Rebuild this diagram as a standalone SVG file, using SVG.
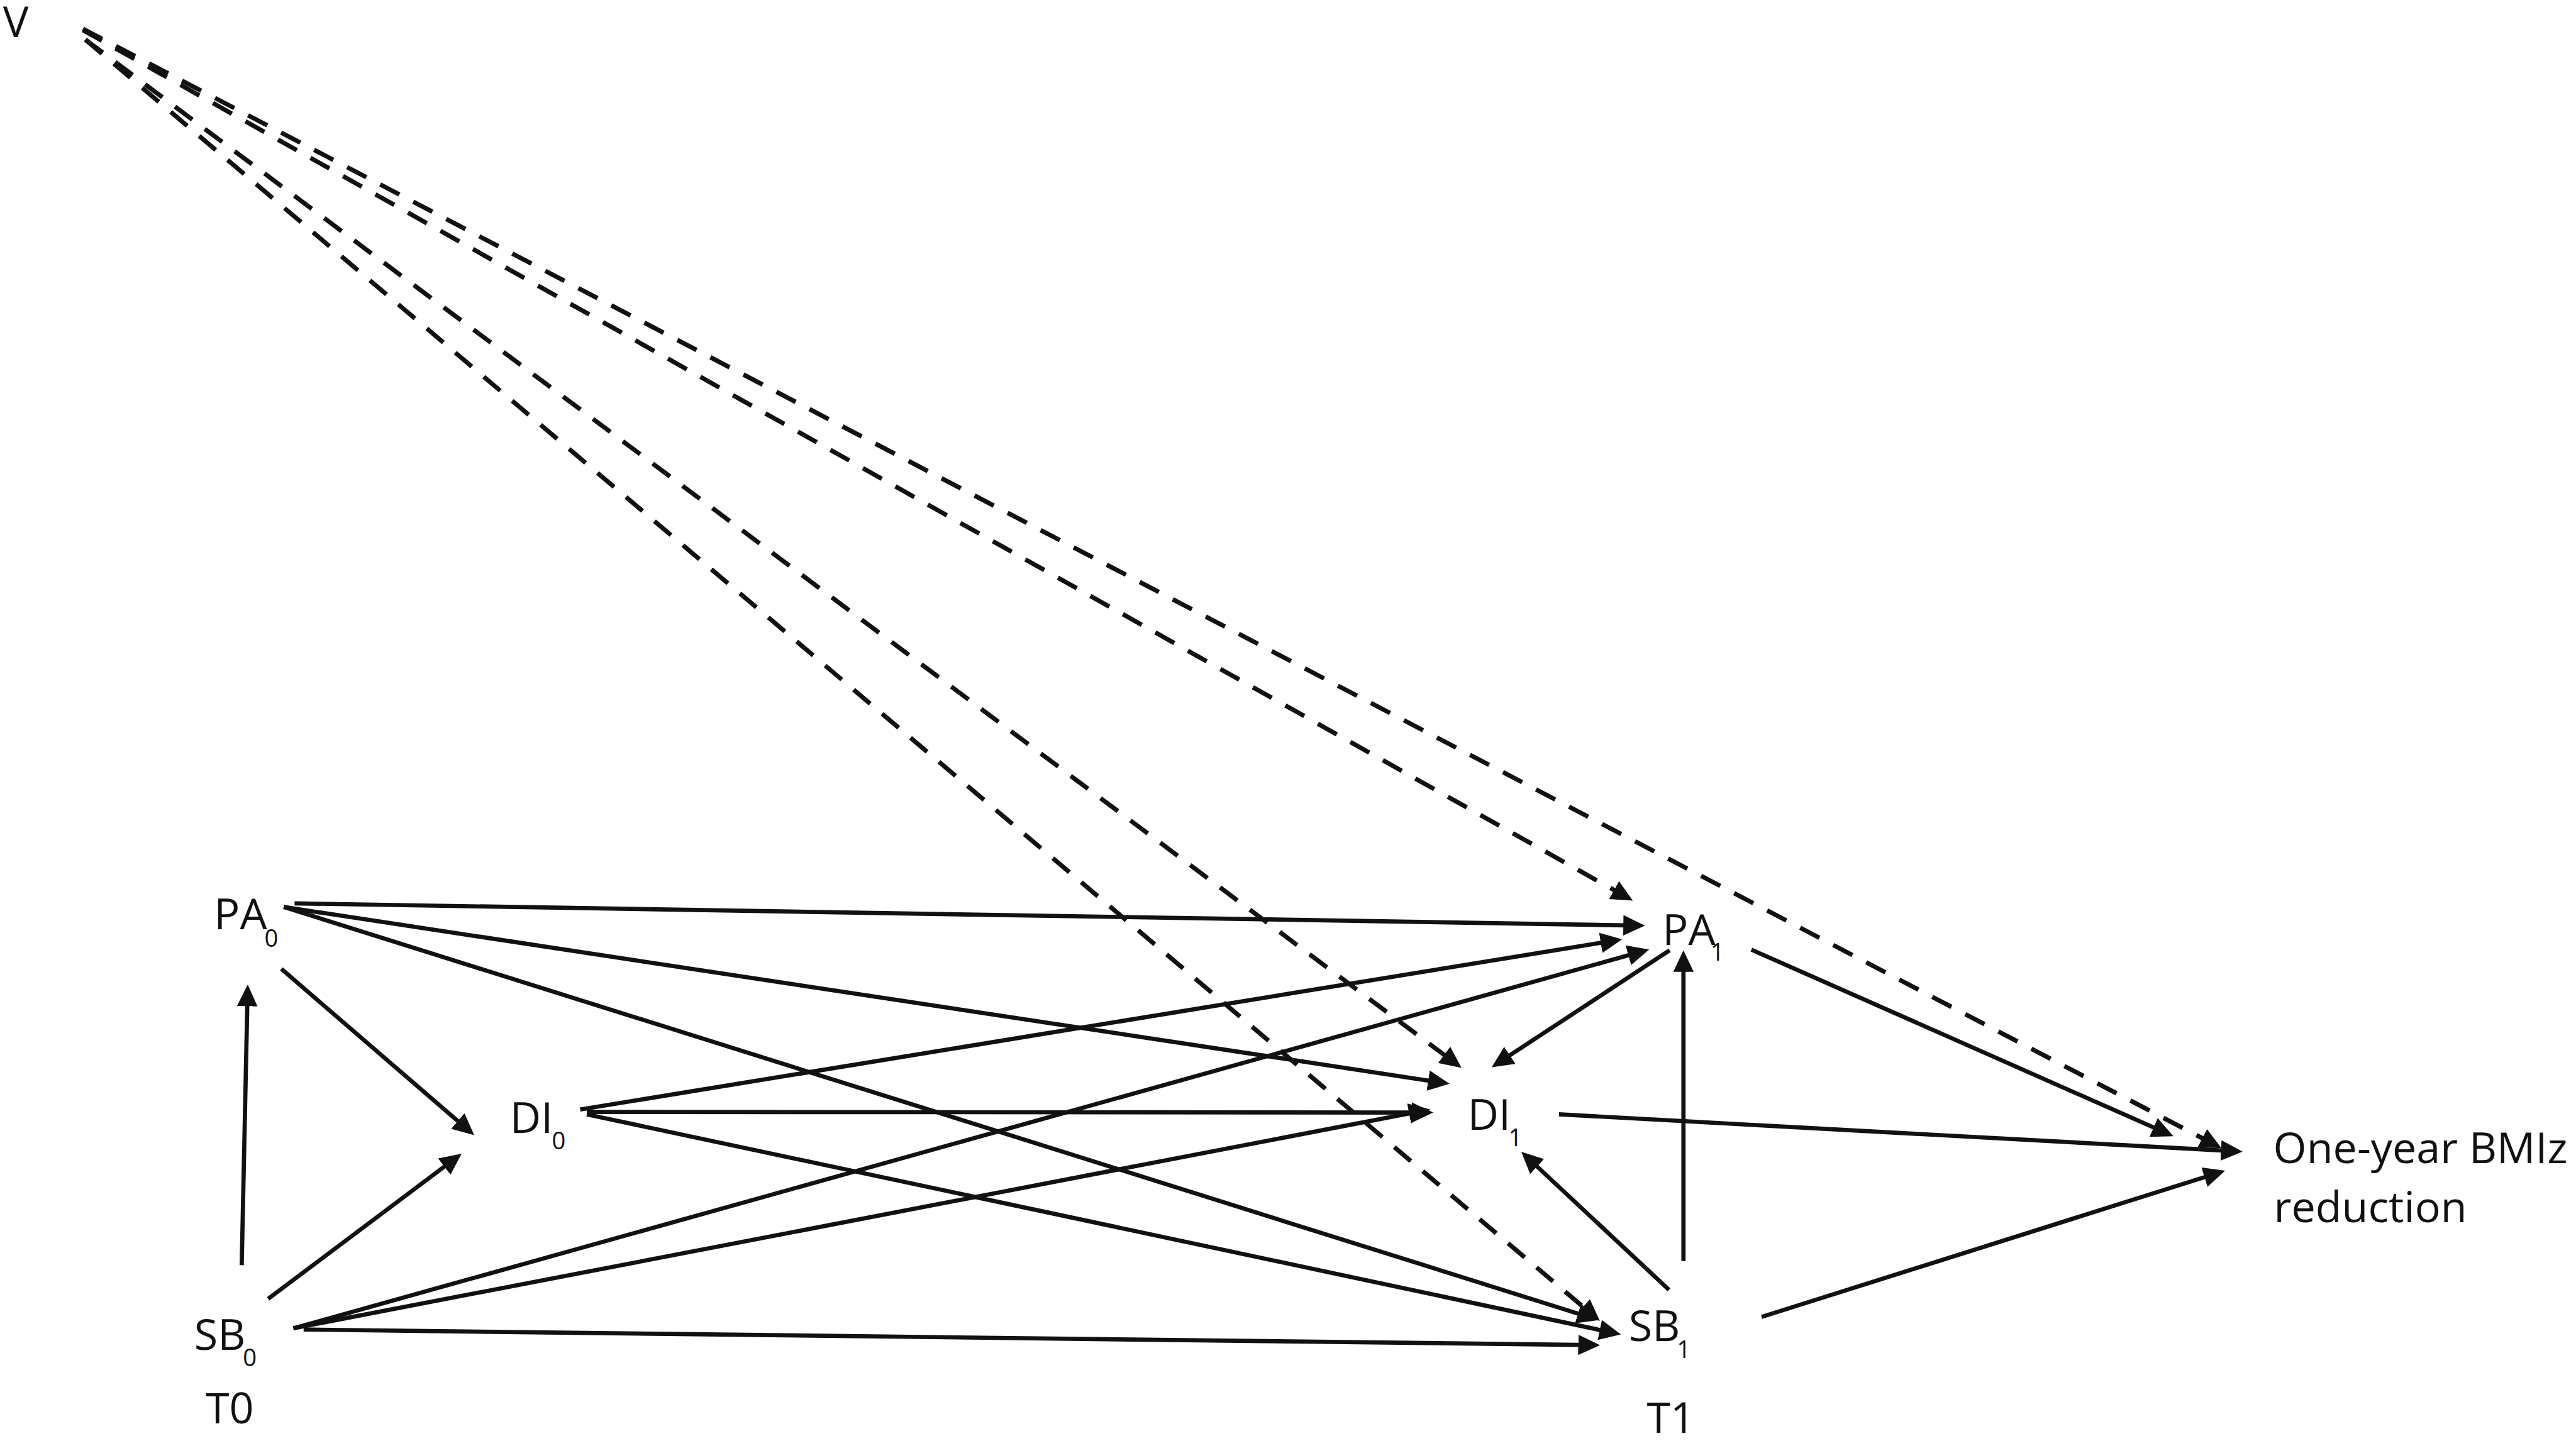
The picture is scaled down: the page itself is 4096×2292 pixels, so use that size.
<svg xmlns="http://www.w3.org/2000/svg" width="4096" height="2292" viewBox="0 0 4096 2292">
<style>
text{font-family:"Open Sans","Liberation Sans",sans-serif;fill:#111;font-size:71.4px}
.sub{font-size:40px}
.s{stroke:#111;stroke-width:7;fill:none;marker-end:url(#ah)}
.d{stroke:#111;stroke-width:7.5;fill:none;stroke-dasharray:36 26;marker-end:url(#ah)}
</style>
<defs>
<marker id="ah" markerUnits="userSpaceOnUse" markerWidth="38" markerHeight="36" refX="20" refY="17" orient="auto">
<path d="M0,0 L36,17 L0,34 z" fill="#111"/>
</marker>
</defs>
<rect width="4096" height="2292" fill="#fff"/>
<g transform="scale(0.956)">
<g id="connectors">
<line class="s" x1="490" y1="1503" x2="2720" y2="1539.8"/>
<line class="s" x1="472" y1="1509" x2="2395.2" y2="1800.8"/>
<line class="s" x1="472" y1="1509" x2="2643.7" y2="2191.5"/>
<line class="s" x1="468" y1="1612" x2="776.6" y2="1878.2"/>
<line class="s" x1="402" y1="2105" x2="411.7" y2="1654"/>
<line class="s" x1="446" y1="2161" x2="755" y2="1929"/>
<line class="s" x1="505" y1="2212" x2="2645" y2="2237.8"/>
<line class="s" x1="488" y1="2210" x2="2727.6" y2="1584"/>
<line class="s" x1="488" y1="2210" x2="2363.3" y2="1848.8"/>
<line class="s" x1="965" y1="1846" x2="2682.2" y2="1565.4"/>
<line class="s" x1="976" y1="1850" x2="2368" y2="1851"/>
<line class="s" x1="976" y1="1854" x2="2680.3" y2="2216.9"/>
<line class="s" x1="2777" y1="1581" x2="2494.5" y2="1766.8"/>
<line class="s" x1="2800" y1="2098" x2="2800" y2="1597"/>
<line class="s" x1="2776" y1="2146" x2="2542" y2="1927.2"/>
<line class="s" x1="2913" y1="1580" x2="3600.3" y2="1883.9"/>
<line class="s" x1="2593" y1="1854" x2="3714" y2="1915.2"/>
<line class="s" x1="2930" y1="2191" x2="3685.7" y2="1952.5"/>
<line class="d" x1="138" y1="50" x2="2701.9" y2="1490.7"/>
<line class="d" x1="138" y1="48" x2="3680.7" y2="1903"/>
<line class="d" x1="142" y1="66" x2="2418" y2="1767"/>
<line class="d" x1="142" y1="66" x2="2648.6" y2="2187.3"/>
</g>
<g id="node-V"><text x="5" y="62">V</text></g>
<g id="node-PA0"><text x="356" y="1546">PA<tspan class="sub" x="440" y="1575">0</tspan></text></g>
<g id="node-DI0"><text x="848" y="1885">DI<tspan class="sub" x="918" y="1912">0</tspan></text></g>
<g id="node-SB0"><text x="323" y="2246">SB<tspan class="sub" x="404" y="2273">0</tspan></text></g>
<g id="label-T0"><text x="342" y="2368">T0</text></g>
<g id="node-PA1"><text x="2765" y="1572">PA<tspan class="sub" x="2845" y="1598">1</tspan></text></g>
<g id="node-DI1"><text x="2441" y="1880">DI<tspan class="sub" x="2509" y="1907">1</tspan></text></g>
<g id="node-SB1"><text x="2709" y="2231">SB<tspan class="sub" x="2789" y="2259">1</tspan></text></g>
<g id="label-T1"><text x="2739" y="2384">T1</text></g>
<g id="node-BMIz"><text x="3781" y="1935" font-size="72.5">One-year BMIz</text><text x="3782" y="2034" font-size="72.5">reduction</text></g>
</g>
</svg>
